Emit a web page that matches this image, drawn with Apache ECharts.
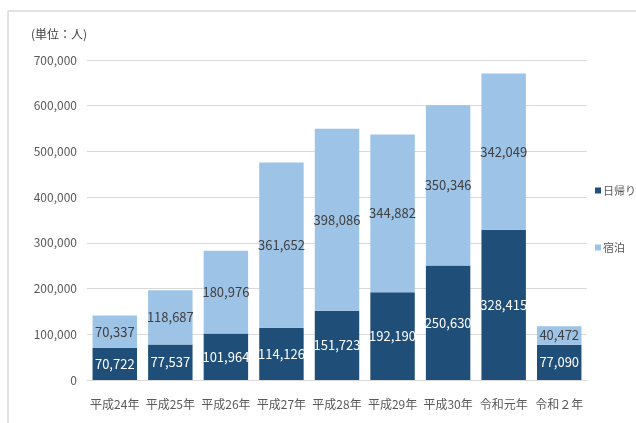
<!DOCTYPE html>
<html><head><meta charset="utf-8">
<script src="https://cdn.jsdelivr.net/npm/echarts@6/dist/echarts.min.js"></script>
<style>html,body{margin:0;padding:0;background:#fff}#c{width:636px;height:423px}</style>
</head><body><div id="c"></div>
<script>
const categories = ['平成24年','平成25年','平成26年','平成27年','平成28年','平成29年','平成30年','令和元年','令和２年'];
const dayTrip = [70722, 77537, 101964, 114126, 151723, 192190, 250630, 328415, 77090];
const overnight = [70337, 118687, 180976, 361652, 398086, 344882, 350346, 342049, 40472];
const seriesNames = ['日帰り','宿泊'];
const unitLabel = '(単位：人)';

const FONT = '"Noto Sans CJK JP", "Noto Sans", sans-serif';
const chart = echarts.init(document.getElementById('c'), null, {renderer:'canvas'});
const fmt = v => v.toLocaleString('en-US');
chart.setOption({
  animation:false,
  textStyle:{fontFamily:FONT},
  graphic:[
    {type:'line', shape:{x1:8,y1:11,x2:636,y2:11}, style:{stroke:'#d9d9d9', lineWidth:1.5}},
    {type:'line', shape:{x1:8,y1:11,x2:8,y2:423}, style:{stroke:'#d9d9d9', lineWidth:1.5}},
    {type:'text', left:31, top:28, style:{text:unitLabel, fill:'#404040', font:'12px '+FONT}}
  ],
  legend:{
    orient:'vertical', left:595, top:185, itemGap:46, padding:0,
    itemWidth:6, itemHeight:6, icon:'rect',
    textStyle:{color:'#595959', fontSize:11, fontFamily:FONT, padding:[0,0,0,-3]},
    data:seriesNames
  },
  grid:{left:87, right:49, top:60, bottom:43},
  xAxis:{
    type:'category', data:categories,
    axisLine:{lineStyle:{color:'#d9d9d9'}}, axisTick:{show:false},
    axisLabel:{color:'#595959', fontSize:12, margin:18, interval:0, fontFamily:FONT}
  },
  yAxis:{
    type:'value', min:0, max:700000, interval:100000,
    axisLine:{show:false}, axisTick:{show:false},
    splitLine:{lineStyle:{color:'#d9d9d9'}},
    axisLabel:{color:'#595959', fontSize:12, margin:10, formatter:v=>fmt(v), fontFamily:FONT}
  },
  series:[
    {name:seriesNames[0], type:'bar', stack:'a', data:dayTrip, barCategoryGap:'20%',
     itemStyle:{color:'#1f4e79'},
     label:{show:true, position:'inside', color:'#ffffff', fontSize:13, fontFamily:FONT, formatter:p=>fmt(p.value)}},
    {name:seriesNames[1], type:'bar', stack:'a', data:overnight, barCategoryGap:'20%',
     itemStyle:{color:'#9dc3e6'},
     label:{show:true, position:'inside', color:'#404040', fontSize:13, fontFamily:FONT, formatter:p=>fmt(p.value)}}
  ]
});
</script></body></html>
